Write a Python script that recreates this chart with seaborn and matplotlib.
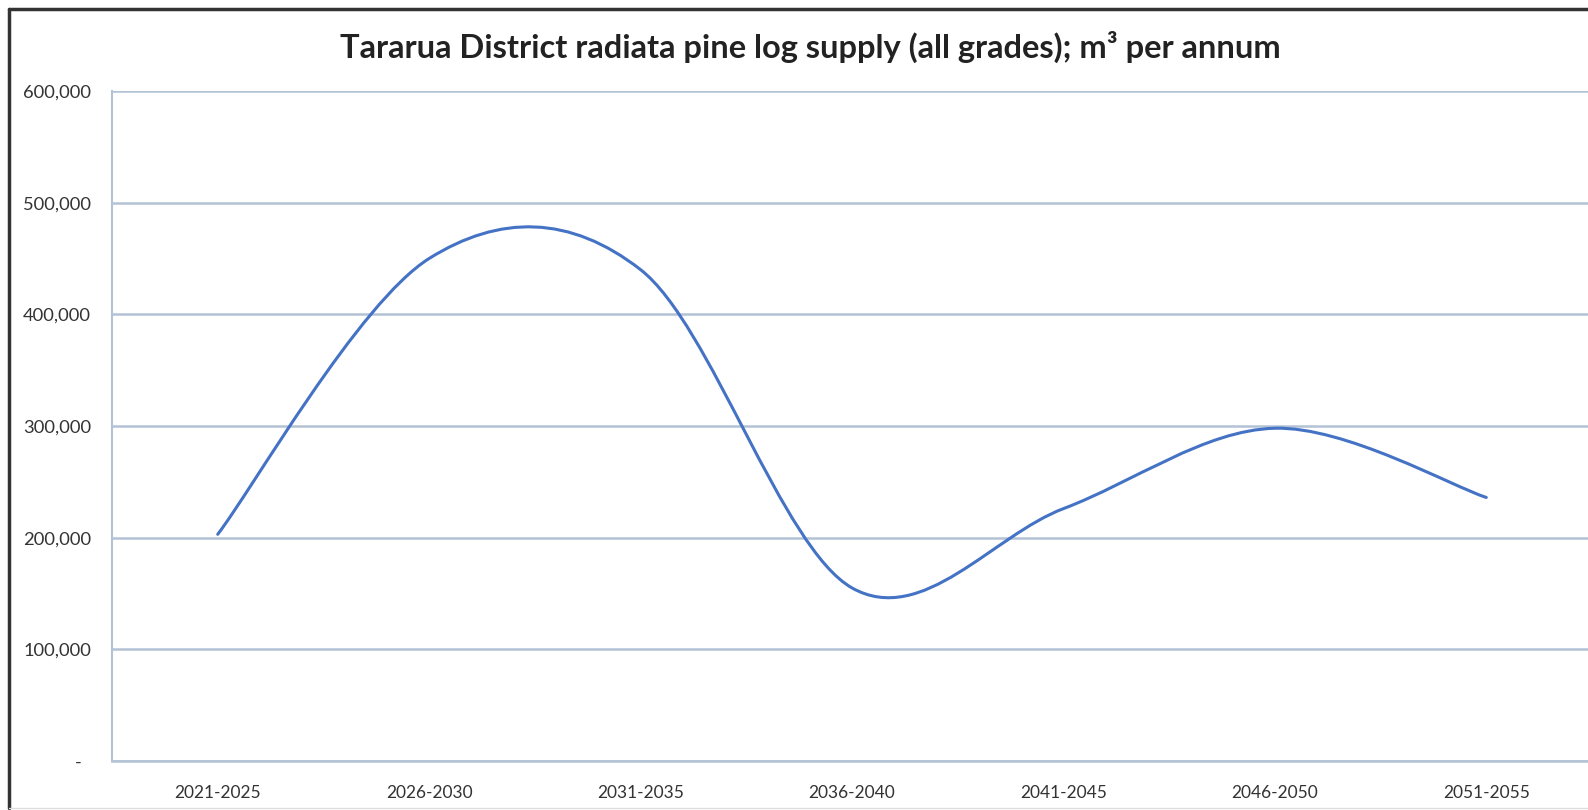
import numpy as np
import matplotlib
matplotlib.use("Agg")
import matplotlib.pyplot as plt
import seaborn as sns
from matplotlib.path import Path
from matplotlib.patches import PathPatch
from matplotlib.lines import Line2D

# ==========================================================
# DATA
# ==========================================================

periods = ["2021-2025", "2026-2030", "2031-2035", "2036-2040",
           "2041-2045", "2046-2050", "2051-2055"]
supply = [203000, 450000, 440000, 155000, 226000, 298000, 236000]

y_ticks = [0, 100000, 200000, 300000, 400000, 500000, 600000]
# Excel accounting format shows zero as a dash, set in from the right
y_tick_labels = ["-  ", "100,000", "200,000", "300,000", "400,000", "500,000", "600,000"]

title = "Tararua District radiata pine log supply (all grades); m³ per annum"

# ==========================================================
# STYLE
# ==========================================================

sns.set_theme(style="white")
plt.rcParams["font.family"] = ["Lato", "DejaVu Sans"]

line_blue = "#4472C4"
grid_col = "#B4C2D6"
text_col = "#333333"

W, H = 1588, 810
fig = plt.figure(figsize=(W / 100, H / 100), dpi=100)

# plot area runs off the right edge, like the cropped source
left, right, top, bottom = 112, 1592, 91, 761
ax = fig.add_axes([left / W, 1 - bottom / H, (right - left) / W, (bottom - top) / H])

# ==========================================================
# SMOOTHED LINE (Excel-style cubic Bezier through the points)
# ==========================================================

xs = np.arange(len(supply), dtype=float)
ys = np.array(supply, dtype=float)
px = np.concatenate([[xs[0]], xs, [xs[-1]]])
py = np.concatenate([[ys[0]], ys, [ys[-1]]])

verts = [(xs[0], ys[0])]
codes = [Path.MOVETO]
for i in range(1, len(px) - 2):
    c1 = (px[i] + (px[i + 1] - px[i - 1]) / 6, py[i] + (py[i + 1] - py[i - 1]) / 6)
    c2 = (px[i + 1] - (px[i + 2] - px[i]) / 6, py[i + 1] - (py[i + 2] - py[i]) / 6)
    verts += [c1, c2, (px[i + 1], py[i + 1])]
    codes += [Path.CURVE4] * 3

ax.add_patch(PathPatch(Path(verts, codes), facecolor="none",
                       edgecolor=line_blue, linewidth=2.2, capstyle="round"))

# ==========================================================
# AXES
# ==========================================================

ax.set_xlim(-0.5, len(periods) - 0.5)
ax.set_ylim(0, 600000)
ax.set_xticks(xs)
ax.set_xticklabels(periods)
ax.set_yticks(y_ticks)
ax.set_yticklabels(y_tick_labels)

for v in y_ticks:
    ax.axhline(v, color=grid_col, linewidth=1.8, zorder=0)

for side in ["top", "right"]:
    ax.spines[side].set_visible(False)
ax.spines["left"].set_color(grid_col)
ax.spines["left"].set_linewidth(1.5)
ax.spines["bottom"].set_color(grid_col)
ax.spines["bottom"].set_linewidth(1.8)

ax.tick_params(axis="both", length=0, labelcolor=text_col)
ax.tick_params(axis="y", pad=15, labelsize=13.2)
ax.tick_params(axis="x", pad=17.5, labelsize=12.5)

fig.text(0.5104, 1 - 47 / H, title, ha="center", va="center",
         fontsize=23.5, color="#222222", fontweight="bold")

# outer chart frame
fig.add_artist(Line2D([9 / W, 9 / W], [1 - 9 / H, 1 - 808 / H], color="#333333",
                      linewidth=2.5, transform=fig.transFigure))
fig.add_artist(Line2D([9 / W, 1.0], [1 - 9 / H, 1 - 9 / H], color="#333333",
                      linewidth=2.5, transform=fig.transFigure))
fig.add_artist(Line2D([9 / W, 1.0], [1 - 808 / H, 1 - 808 / H], color="#DDDDDD",
                      linewidth=1.0, transform=fig.transFigure))

fig.savefig("out.png", dpi=100)
